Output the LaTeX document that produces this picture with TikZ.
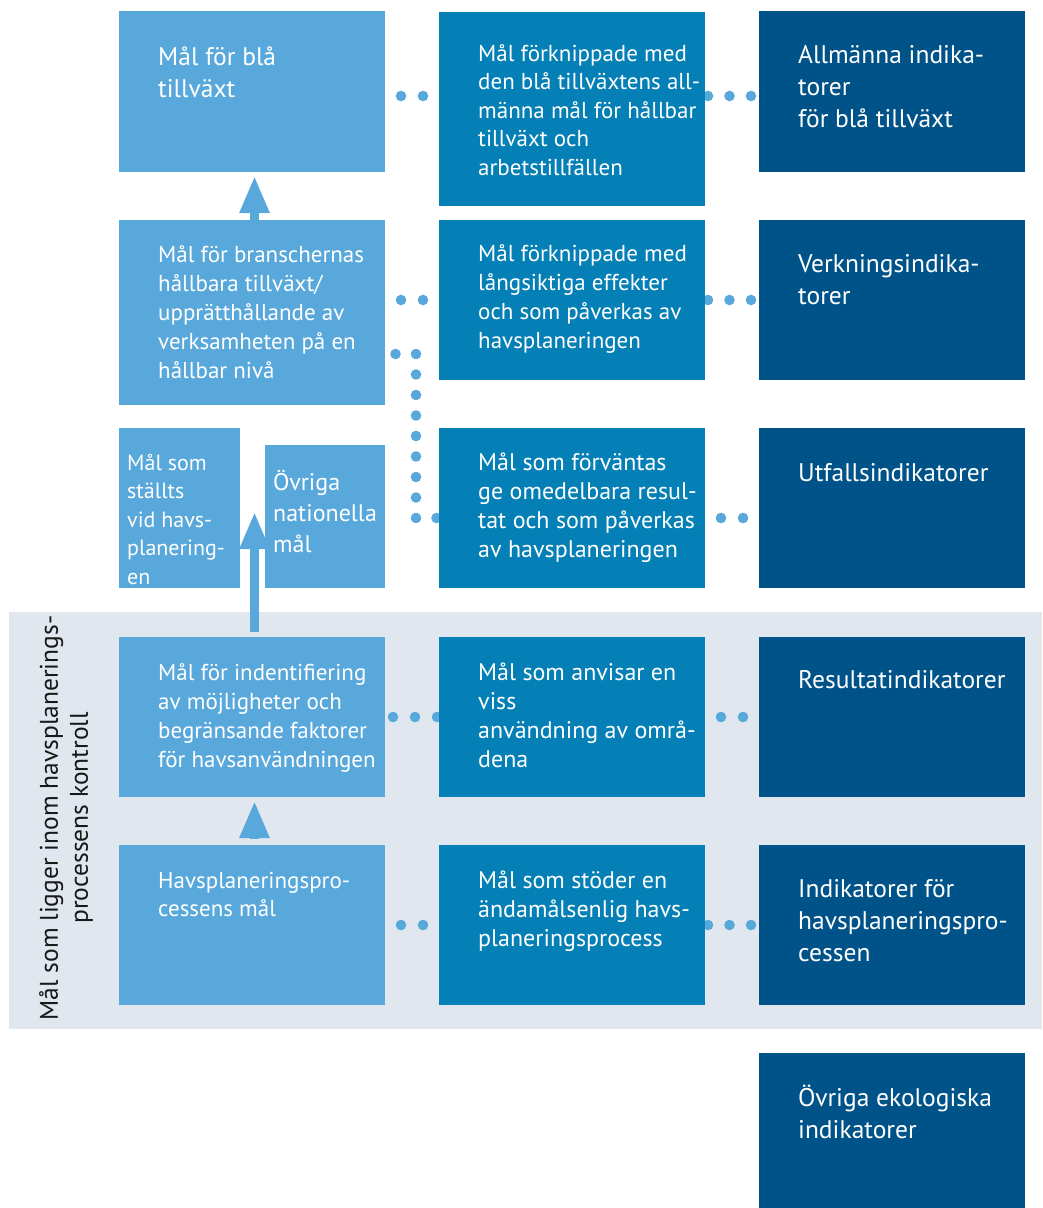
\documentclass[tikz,border=0pt]{standalone}
\usepackage{fontspec}
\setmainfont{PT Sans}
\usetikzlibrary{arrows.meta, positioning, calc}

\definecolor{ljusbla}{HTML}{59A8DC}
\definecolor{mellanbla}{HTML}{0580B6}
\definecolor{morkbla}{HTML}{005388}
\definecolor{bandgra}{HTML}{E1E7EF}

\pgfdeclarelayer{band}
\pgfdeclarelayer{prickar}
\pgfsetlayers{band,prickar,main}

\tikzset{
  ruta/.style={anchor=north west, inner sep=0pt, outer sep=0pt, minimum width=266pt, minimum height=160pt},
  ljus/.style={ruta, fill=ljusbla},
  mellan/.style={ruta, fill=mellanbla},
  mork/.style={ruta, fill=morkbla},
  % base west = baslinjen för sista raden
  txt/.style={anchor=base west, inner sep=0pt, align=left, text=white, font=\fontsize{23}{29}\selectfont},
  stor/.style={font=\fontsize{25.5}{32}\selectfont},
  prick/.style={draw=ljusbla, line width=10.6pt, line cap=round, dash pattern=on 0pt off 22pt, dash phase=6pt},
  prick3/.style={dash pattern=on 0pt off 21.5pt, dash phase=18.5pt},
  pil/.style={draw=ljusbla, line width=8.5pt, -{Triangle[width=28pt,length=37pt]}}
}

\begin{document}
\begin{tikzpicture}[x=1pt, y=-1pt]
  \useasboundingbox (0,0) rectangle (1042,1208);

  % vänster kolumn: mål
  \node[ljus, minimum height=161pt] (g1) at (119,11) {};
  \node[ljus, minimum height=185pt] (g2) at (119,220) {};
  \node[ljus, minimum width=121pt] (g3a) at (119,428) {};
  \node[ljus, minimum width=120pt, minimum height=143pt] (g3b) at (265,445) {};
  \node[ljus] (g4) at (119,637) {};
  \node[ljus] (g5) at (119,845) {};

  % mittkolumn
  \node[mellan, minimum height=194pt] (m1) at (439,12) {};
  \node[mellan] (m2) at (439,220) {};
  \node[mellan] (m3) at (439,428) {};
  \node[mellan] (m4) at (439,637) {};
  \node[mellan] (m5) at (439,845) {};

  % höger kolumn: indikatorer
  \node[mork, minimum height=161pt] (d1) at (759,11) {};
  \node[mork] (d2) at (759,220) {};
  \node[mork] (d3) at (759,428) {};
  \node[mork] (d4) at (759,637) {};
  \node[mork] (d5) at (759,845) {};
  \node[mork, minimum height=155pt] (d6) at (759,1053) {};

  % texter
  \node[txt, stor] (g1t) at (158,97) {Mål för blå\\tillväxt};
  \node[txt] (g2t) at (158,378) {Mål för branschernas\\hållbara tillväxt/\\upprätthållande av\\verksamheten på en\\hållbar nivå};
  \node[txt, font=\fontsize{22}{28.5}\selectfont] (g3at) at (127,584) {Mål som\\ställts\\vid havs-\\planering-\\en};
  \node[txt, font=\fontsize{24}{31}\selectfont] (g3bt) at (273,552) {Övriga\\nationella\\mål};
  \node[txt] (g4t) at (158,767) {Mål för indentifiering\\av möjligheter och\\begränsande faktorer\\för havsanvändningen};
  \node[txt, font=\fontsize{23}{28}\selectfont] (g5t) at (158,916) {Havsplaneringspro-\\cessens mål};

  \node[txt, font=\fontsize{23}{28.5}\selectfont] (m1t) at (478,175) {Mål förknippade med\\den blå tillväxtens all-\\männa mål för hållbar\\tillväxt och\\arbetstillfällen};
  \node[txt] (m2t) at (478,348) {Mål förknippade med\\långsiktiga effekter\\och som påverkas av\\havsplaneringen};
  \node[txt, font=\fontsize{24}{29}\selectfont] (m3t) at (478,557) {Mål som förväntas\\ge omedelbara resul-\\tat och som påverkas\\av havsplaneringen};
  \node[txt, font=\fontsize{24}{29}\selectfont] (m4t) at (478,767) {Mål som anvisar en\\viss\\användning av områ-\\dena};
  \node[txt, font=\fontsize{24}{29}\selectfont] (m5t) at (478,946) {Mål som stöder en\\ändamålsenlig havs-\\planeringsprocess};

  \node[txt, stor] (d1t) at (798,127) {Allmänna indika-\\torer\\för blå tillväxt};
  \node[txt, stor] (d2t) at (798,304) {Verkningsindika-\\torer};
  \node[txt, stor] (d3t) at (798,481) {Utfallsindikatorer};
  \node[txt, stor] (d4t) at (798,688) {Resultatindikatorer};
  \node[txt, stor] (d5t) at (798,961) {Indikatorer för\\havsplaneringspro-\\cessen};
  \node[txt, stor] (d6t) at (798,1138) {Övriga ekologiska\\indikatorer};

  \node[rotate=90, align=center, text=black!90, font=\fontsize{25.5}{30}\selectfont] (kontroll) at (66,818) {Mål som ligger inom havsplanerings-\\processens kontroll};

  % pilar
  \coordinate (pilspets) at (254.5,512);
  \draw[pil, shorten >=4pt] ([xshift=2.5pt]g2.north) -- ([xshift=2.5pt]g1.south);
  \draw[pil, shorten <=5pt] ([xshift=2.5pt]g4.north) -- (pilspets);
  \draw[pil, shorten <=6pt, shorten >=4pt] ([xshift=2.5pt]g5.north) -- ([xshift=2.5pt]g4.south);

  % prickade förbindelser
  \coordinate (rad1) at (0,96);
  \coordinate (rad2) at (0,300);
  \coordinate (kedja) at (0,354);
  \coordinate (rad3) at (0,518);
  \coordinate (rad4) at (0,717);
  \coordinate (rad5) at (0,925);

  \begin{pgfonlayer}{band}
    \fill[bandgra] (9,612) rectangle (1042,1029);
  \end{pgfonlayer}

  \begin{pgfonlayer}{prickar}
    \draw[prick] (g1.east |- rad1) -- (m1.west |- rad1);
    \draw[prick, prick3] (m1.east |- rad1) -- (d1.west |- rad1);
    \draw[prick] (g2.east |- rad2) -- (m2.west |- rad2);
    \draw[prick, prick3] (m2.east |- rad2) -- (d2.west |- rad2);
    \draw[prick, dash pattern=on 0pt off 20.5pt, dash phase=10pt] (g2.east |- kedja) -- ++(31,0) |- (m3.west |- rad3);
    \draw[prick] (m3.east |- rad3) -- (d3.west |- rad3);
    \draw[prick, dash phase=14pt] (g4.east |- rad4) -- (m4.west |- rad4);
    \draw[prick] (m4.east |- rad4) -- (d4.west |- rad4);
    \draw[prick] (g5.east |- rad5) -- (m5.west |- rad5);
    \draw[prick, prick3] (m5.east |- rad5) -- (d5.west |- rad5);
  \end{pgfonlayer}
\end{tikzpicture}
\end{document}
